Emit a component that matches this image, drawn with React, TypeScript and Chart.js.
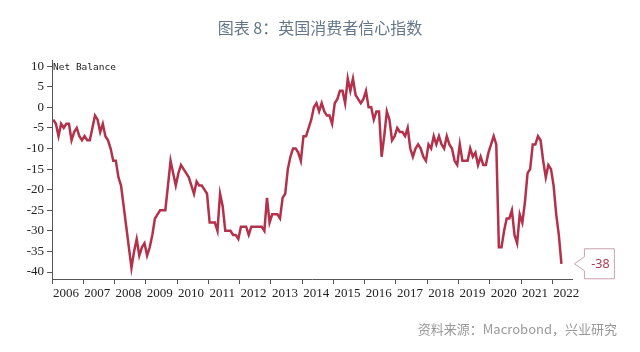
import React, { useEffect, useRef } from "react";
import { Chart, registerables } from "chart.js";

Chart.register(...registerables);

// ---- data (UK consumer confidence, net balance, monthly Jan 2006 – Apr 2022) ----
const years = [2006, 2007, 2008, 2009, 2010, 2011, 2012, 2013, 2014, 2015, 2016, 2017, 2018, 2019, 2020, 2021, 2022];
const yTicks = [-40, -35, -30, -25, -20, -15, -10, -5, 0, 5, 10];

const v2006 = [-3, -4, -7, -4, -5, -4, -4, -8, -6, -5, -7, -8];
const v2007 = [-7, -8, -8, -5, -2, -3, -6, -4, -7, -8, -10, -13];
const v2008 = [-13, -17, -19, -24, -29, -34, -39, -35, -32, -36, -34, -33];
const v2009 = [-36, -34, -31, -27, -26, -25, -25, -25, -19, -13, -16, -19];
const v2010 = [-16, -14, -15, -16, -17, -19, -21, -18, -19, -19, -20, -21];
const v2011 = [-28, -28, -28, -30, -21, -24, -30, -30, -30, -31, -31, -32];
const v2012 = [-29, -29, -29, -31, -29, -29, -29, -29, -29, -30, -22, -28];
const v2013 = [-26, -26, -26, -27, -22, -21, -15, -12, -10, -10, -11, -13];
const v2014 = [-7, -7, -5, -3, 0, 1, -1, 1, -1, -2, -2, -4];
const v2015 = [1, 2, 4, 4, 1, 7, 4, 7, 3, 2, 1, 2];
const v2016 = [4, 0, 0, -3, -1, -1, -12, -7, -1, -3, -8, -7];
const v2017 = [-5, -6, -6, -7, -5, -10, -12, -10, -9, -10, -12, -13];
const v2018 = [-9, -10, -7, -9, -7, -9, -10, -7, -9, -10, -13, -14];
const v2019 = [-9, -13, -13, -13, -10, -12, -11, -14, -12, -14, -14, -11];
const v2020 = [-9, -7, -9, -34, -34, -30, -27, -27, -25, -31, -33, -26];
const v2021 = [-28, -23, -16, -15, -9, -9, -7, -8, -13, -17, -14, -15];
const v2022 = [-19, -26, -31, -38];

const series = [
  ...v2006, ...v2007, ...v2008, ...v2009, ...v2010, ...v2011, ...v2012, ...v2013, ...v2014,
  ...v2015, ...v2016, ...v2017, ...v2018, ...v2019, ...v2020, ...v2021, ...v2022,
];

const titleText = "图表 8：英国消费者信心指数";
const sourceText = "资料来源：Macrobond，兴业研究";
const unitText = "Net Balance";
const lastValueLabel = String(series[series.length - 1]);

const LINE = "#b3314a";
const AXIS = "#555";

const overlayPlugin = {
  id: "overlay",
  afterDraw(chart: any) {
    const { ctx, chartArea, scales } = chart;
    ctx.save();
    // unit label
    ctx.font = '9.5px "DejaVu Sans Mono"';
    ctx.fillStyle = "#222";
    ctx.textAlign = "left";
    ctx.textBaseline = "alphabetic";
    ctx.fillText(unitText, chartArea.left + 1, scales.y.getPixelForValue(10) + 4);

    // callout for the last value
    const meta = chart.getDatasetMeta(0);
    const last = meta.data[meta.data.length - 1];
    const px = last.x;
    const py = last.y;
    const tipX = px + 13;
    const bx = px + 23;
    const bw = 30;
    const bh = 30;
    const by = py - 15;
    ctx.beginPath();
    ctx.moveTo(tipX, py);
    ctx.lineTo(bx, py - 7);
    ctx.lineTo(bx, by);
    ctx.lineTo(bx + bw, by);
    ctx.lineTo(bx + bw, by + bh);
    ctx.lineTo(bx, by + bh);
    ctx.lineTo(bx, py + 7);
    ctx.closePath();
    ctx.fillStyle = "#ffffff";
    ctx.fill();
    ctx.strokeStyle = "#c9a3ab";
    ctx.lineWidth = 1;
    ctx.stroke();
    ctx.fillStyle = "#b23a4f";
    ctx.font = '12.5px "Noto Sans"';
    ctx.textAlign = "center";
    ctx.textBaseline = "middle";
    ctx.fillText(lastValueLabel, bx + bw / 2 + 1, py + 1);
    ctx.restore();
  },
};

export default function App() {
  const canvasRef = useRef<HTMLCanvasElement | null>(null);

  useEffect(() => {
    const canvas = canvasRef.current;
    if (!canvas) return;
    const points = series.map((v, i) => ({ x: years[0] + (i + 0.5) / 12, y: v }));
    const chart = new Chart(canvas, {
      type: "line",
      data: {
        datasets: [
          {
            data: points,
            borderColor: LINE,
            borderWidth: 2.5,
            pointRadius: 0,
            tension: 0,
            fill: false,
          },
        ],
      },
      options: {
        animation: false,
        responsive: false,
        devicePixelRatio: 1,
        layout: { padding: { left: 0, right: 68, top: 60, bottom: 0 } },
        plugins: {
          legend: { display: false },
          tooltip: { enabled: false },
          title: { display: false },
        },
        scales: {
          x: {
            type: "linear",
            min: years[0],
            max: 2022.63,
            afterBuildTicks: (scale: any) => {
              scale.ticks = years.map((y) => ({ value: y }));
            },
            afterFit: (scale: any) => {
              scale.height = 73;
            },
            grid: {
              drawOnChartArea: false,
              drawTicks: true,
              tickLength: 5,
              color: AXIS,
            },
            border: { display: true, color: AXIS, width: 1 },
            ticks: {
              autoSkip: false,
              maxRotation: 0,
              minRotation: 0,
              labelOffset: 14,
              padding: 2,
              color: "#222",
              font: { family: '"Liberation Serif"', size: 13 },
              callback: (v: any) => String(v),
            },
          },
          y: {
            type: "linear",
            min: -41.7,
            max: 11.5,
            afterBuildTicks: (scale: any) => {
              scale.ticks = yTicks.map((v) => ({ value: v }));
            },
            afterFit: (scale: any) => {
              scale.width = 52;
            },
            grid: {
              drawOnChartArea: false,
              drawTicks: true,
              tickLength: 5,
              color: AXIS,
            },
            border: { display: true, color: AXIS, width: 1 },
            ticks: {
              padding: 3,
              color: "#222",
              font: { family: '"Liberation Serif"', size: 13 },
              callback: (v: any) => String(v),
            },
          },
        },
      },
      plugins: [overlayPlugin],
    });
    return () => chart.destroy();
  }, []);

  return (
    <div
      style={{
        position: "fixed",
        left: 0,
        top: 0,
        width: 640,
        height: 352,
        background: "#ffffff",
        overflow: "hidden",
      }}
    >
      <canvas ref={canvasRef} width={640} height={352} style={{ position: "absolute", left: 0, top: 0 }} />
      <div
        style={{
          position: "absolute",
          left: 0,
          top: 16,
          width: 640,
          textAlign: "center",
          fontFamily: '"Noto Sans CJK SC", sans-serif',
          fontSize: 16,
          lineHeight: "22px",
          color: "#647688",
        }}
      >
        {titleText}
      </div>
      <div
        style={{
          position: "absolute",
          right: 23,
          top: 320,
          fontFamily: '"Noto Sans CJK SC", sans-serif',
          fontSize: 13,
          lineHeight: "18px",
          color: "#999999",
          whiteSpace: "nowrap",
        }}
      >
        {sourceText}
      </div>
    </div>
  );
}
